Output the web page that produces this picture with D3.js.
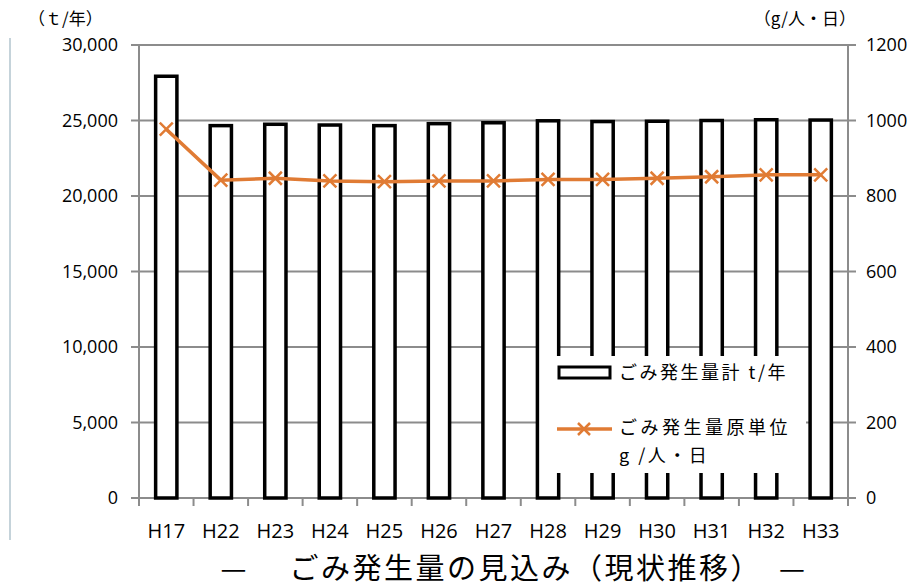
<!DOCTYPE html>
<html>
<head>
<meta charset="utf-8">
<script src="https://cdn.jsdelivr.net/npm/d3@7"></script>
<style>
  body { margin: 0; background: #fff; }
  text { font-family: "Open Sans", "Noto Sans CJK JP", sans-serif; }
  .jp { font-family: "Noto Sans CJK JP", sans-serif; }
</style>
</head>
<body>
<div id="chart"></div>
<script>
// data
var categories = ['H17', 'H22', 'H23', 'H24', 'H25', 'H26', 'H27', 'H28', 'H29', 'H30', 'H31', 'H32', 'H33'];
var totals = [27930, 24660, 24750, 24700, 24660, 24790, 24850, 24980, 24930, 24950, 25000, 25050, 25030];
var perCapita = [977, 842, 847, 840, 838, 840, 840, 844, 844, 847, 851, 856, 856];
var leftTicks = [0, 5000, 10000, 15000, 20000, 25000, 30000];
var rightTicks = [0, 200, 400, 600, 800, 1000, 1200];

var w = 912, h = 587;
var mLeft = 139, mRight = 848, mTop = 45, mBottom = 498;
var orange = '#e07b34';
var grid = '#8c8c8c';

var svg = d3.select('#chart').append('svg')
  .attr('width', w)
  .attr('height', h);

var x = d3.scaleBand().domain(categories).range([mLeft, mRight]).paddingInner(0.61).paddingOuter(0.305);
var xBound = d3.scaleLinear().domain([0, categories.length]).range([mLeft, mRight]);
var y = d3.scaleLinear().domain([0, 30000]).range([mBottom, mTop]);
var y2 = d3.scaleLinear().domain([0, 1200]).range([mBottom, mTop]);

// faint frame line at left
svg.append('line')
  .attr('x1', 10).attr('x2', 10).attr('y1', 38).attr('y2', 540)
  .attr('stroke', '#c5d3da').attr('stroke-width', 2);

// gridlines
svg.selectAll('line.grid').data(leftTicks).enter().append('line')
  .attr('class', 'grid')
  .attr('x1', mLeft - 8).attr('x2', mRight + 8)
  .attr('y1', function(d) { return y(d); })
  .attr('y2', function(d) { return y(d); })
  .attr('stroke', grid).attr('stroke-width', 2);

// left / right axis lines
svg.append('line').attr('x1', mLeft).attr('x2', mLeft).attr('y1', mTop).attr('y2', mBottom)
  .attr('stroke', grid).attr('stroke-width', 2);
svg.append('line').attr('x1', mRight).attr('x2', mRight).attr('y1', mTop).attr('y2', mBottom)
  .attr('stroke', grid).attr('stroke-width', 2);

// bottom category ticks
svg.selectAll('line.xtick').data(d3.range(categories.length + 1)).enter().append('line')
  .attr('class', 'xtick')
  .attr('x1', function(d) { return xBound(d); })
  .attr('x2', function(d) { return xBound(d); })
  .attr('y1', mBottom).attr('y2', mBottom + 8)
  .attr('stroke', grid).attr('stroke-width', 2);

// bars
svg.selectAll('rect.bar').data(totals).enter().append('rect')
  .attr('class', 'bar')
  .attr('x', function(d, i) { return x(categories[i]); })
  .attr('y', function(d) { return y(d); })
  .attr('width', x.bandwidth())
  .attr('height', function(d) { return mBottom - y(d); })
  .attr('fill', '#fff')
  .attr('stroke', '#000')
  .attr('stroke-width', 3.5);

// line
var line = d3.line()
  .x(function(d, i) { return x(categories[i]) + x.bandwidth() / 2; })
  .y(function(d) { return y2(d); });

svg.append('path')
  .datum(perCapita)
  .attr('d', line)
  .attr('fill', 'none')
  .attr('stroke', orange)
  .attr('stroke-width', 3.5);

function cross(g, cx, cy, s) {
  g.append('path')
    .attr('d', 'M' + (cx - s) + ',' + (cy - s) + 'L' + (cx + s) + ',' + (cy + s) +
               'M' + (cx - s) + ',' + (cy + s) + 'L' + (cx + s) + ',' + (cy - s))
    .attr('stroke', orange).attr('stroke-width', 2.5).attr('fill', 'none');
}
perCapita.forEach(function(d, i) {
  cross(svg, x(categories[i]) + x.bandwidth() / 2, y2(d), 6.5);
});

// left tick labels
svg.selectAll('text.yl').data(leftTicks).enter().append('text')
  .attr('x', 118)
  .attr('y', function(d) { return y(d) + 6; })
  .attr('text-anchor', 'end')
  .attr('font-size', 18)
  .text(function(d) { return d3.format(',')(d); });

// right tick labels
svg.selectAll('text.yr').data(rightTicks).enter().append('text')
  .attr('x', 866)
  .attr('y', function(d) { return y2(d) + 6; })
  .attr('font-size', 18)
  .text(function(d) { return d; });

// category labels
svg.selectAll('text.xl').data(categories).enter().append('text')
  .attr('x', function(d) { return x(d) + x.bandwidth() / 2; })
  .attr('y', 538)
  .attr('text-anchor', 'middle')
  .attr('font-size', 20)
  .text(function(d) { return d; });

// unit labels
svg.append('text').attr('class', 'jp').attr('x', 28).attr('y', 25).attr('font-size', 17)
  .text('（ｔ/年）');
svg.append('text').attr('class', 'jp').attr('x', 856).attr('y', 25).attr('font-size', 17)
  .attr('text-anchor', 'end')
  .text('（g/人・日）');

// legend
var lg = svg.append('g');
lg.append('rect').attr('x', 542).attr('y', 356).attr('width', 264).attr('height', 117)
  .attr('fill', '#fff');
lg.append('rect').attr('x', 559).attr('y', 367).attr('width', 51).attr('height', 11)
  .attr('fill', '#fff').attr('stroke', '#000').attr('stroke-width', 3);
lg.append('text').attr('class', 'jp').attr('x', 619).attr('y', 379).attr('font-size', 18)
  .attr('letter-spacing', 2.5)
  .text('ごみ発生量計 t/年');
lg.append('line').attr('x1', 557).attr('x2', 612).attr('y1', 429).attr('y2', 429)
  .attr('stroke', orange).attr('stroke-width', 3.5);
cross(lg, 584, 429, 6);
lg.append('text').attr('class', 'jp').attr('x', 619).attr('y', 434).attr('font-size', 18)
  .attr('letter-spacing', 3.5)
  .text('ごみ発生量原単位');
lg.append('text').attr('class', 'jp').attr('x', 619).attr('y', 462).attr('font-size', 18)
  .attr('letter-spacing', 2.5)
  .text('g /人・日');

// title
svg.append('text').attr('class', 'jp')
  .attr('x', 514).attr('y', 579)
  .attr('text-anchor', 'middle')
  .attr('font-size', 29)
  .attr('letter-spacing', 2.5)
  .attr('xml:space', 'preserve')
  .text('—　 ごみ発生量の見込み（現状推移）　—');
</script>
</body>
</html>
